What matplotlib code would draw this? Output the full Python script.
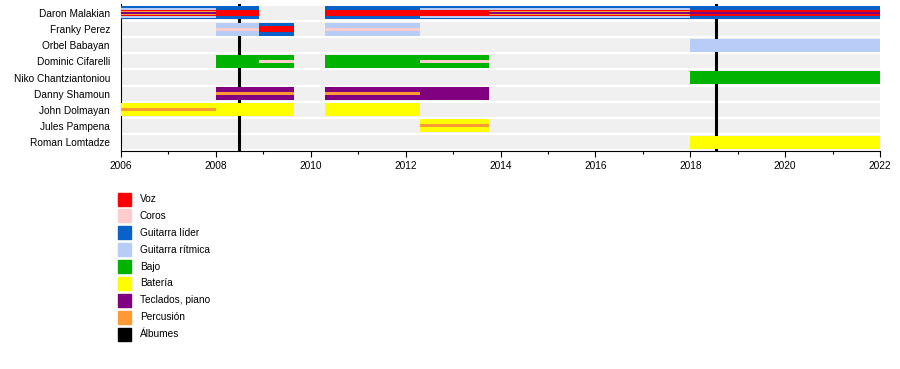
import matplotlib.pyplot as plt
from matplotlib.patches import Rectangle

plt.rcParams['font.family'] = ['Liberation Sans', 'DejaVu Sans']

members = ["Daron Malakian", "Franky Perez", "Orbel Babayan", "Dominic Cifarelli",
           "Niko Chantziantoniou", "Danny Shamoun", "John Dolmayan",
           "Jules Pampena", "Roman Lomtadze"]

roles = ["Voz", "Coros", "Guitarra líder", "Guitarra rítmica", "Bajo",
         "Batería", "Teclados, piano", "Percusión", "Álbumes"]
role_colors = ["#ff0000", "#ffcccc", "#0a62c8", "#b8ccf8", "#00b300",
               "#ffff00", "#800080", "#ff9933", "#000000"]

# (member, start, end, role, layer)  layer 0 = main bar, higher = thinner stripe on top
bars = [
    ("Daron Malakian", 2006.0, 2008.9, "Guitarra líder", 0),
    ("Daron Malakian", 2006.0, 2008.0, "Guitarra rítmica", 1),
    ("Daron Malakian", 2006.0, 2008.9, "Voz", 2),
    ("Daron Malakian", 2006.0, 2008.0, "Percusión", 3),
    ("Daron Malakian", 2006.0, 2008.0, "Teclados, piano", 4),
    ("Daron Malakian", 2010.3, 2022.0, "Guitarra líder", 0),
    ("Daron Malakian", 2012.3, 2018.0, "Guitarra rítmica", 1),
    ("Daron Malakian", 2010.3, 2022.0, "Voz", 2),
    ("Daron Malakian", 2013.75, 2018.0, "Percusión", 3),
    ("Daron Malakian", 2013.75, 2022.0, "Teclados, piano", 4),
    ("Franky Perez", 2008.0, 2008.9, "Guitarra rítmica", 0),
    ("Franky Perez", 2008.0, 2008.9, "Coros", 3),
    ("Franky Perez", 2008.9, 2009.65, "Guitarra líder", 0),
    ("Franky Perez", 2008.9, 2009.65, "Voz", 2),
    ("Franky Perez", 2010.3, 2012.3, "Guitarra rítmica", 0),
    ("Franky Perez", 2010.3, 2012.3, "Coros", 3),
    ("Orbel Babayan", 2018.0, 2022.0, "Guitarra rítmica", 0),
    ("Dominic Cifarelli", 2008.0, 2009.65, "Bajo", 0),
    ("Dominic Cifarelli", 2008.9, 2009.65, "Coros", 3),
    ("Dominic Cifarelli", 2010.3, 2013.75, "Bajo", 0),
    ("Dominic Cifarelli", 2012.3, 2013.75, "Coros", 3),
    ("Niko Chantziantoniou", 2018.0, 2022.0, "Bajo", 0),
    ("Danny Shamoun", 2008.0, 2009.65, "Teclados, piano", 0),
    ("Danny Shamoun", 2008.0, 2009.65, "Percusión", 3),
    ("Danny Shamoun", 2010.3, 2013.75, "Teclados, piano", 0),
    ("Danny Shamoun", 2010.3, 2012.3, "Percusión", 3),
    ("John Dolmayan", 2006.0, 2009.65, "Batería", 0),
    ("John Dolmayan", 2006.0, 2008.0, "Percusión", 3),
    ("John Dolmayan", 2010.3, 2012.3, "Batería", 0),
    ("Jules Pampena", 2012.3, 2013.75, "Batería", 0),
    ("Jules Pampena", 2012.3, 2013.75, "Percusión", 3),
    ("Roman Lomtadze", 2018.0, 2022.0, "Batería", 0),
]

albums = [2008.48, 2018.54]

year_start = 2006
year_end = 2022

W, H = 900, 369
fig = plt.figure(figsize=(W / 100, H / 100), dpi=100)

# axes box in pixels: left 121, right 880, top 4, bottom 151
ax = fig.add_axes([121 / W, 1 - 151 / H, (880 - 121) / W, (151 - 4) / H])

layer_height = [0.806, 0.56, 0.33, 0.2, 0.1]
color_of = dict(zip(roles, role_colors))
row_of = {m: i for i, m in enumerate(members)}

# light grey background rows
for i in range(len(members)):
    ax.barh(i, year_end - year_start, left=year_start, height=0.88,
            color="#f0f0f0", zorder=1)

for a in albums:
    ax.axvline(a, color="black", lw=2.2, zorder=2)

for m, s, e, r, lay in bars:
    ax.barh(row_of[m], e - s, left=s, height=layer_height[lay],
            color=color_of[r], zorder=3 + lay, linewidth=0)

ax.set_xlim(year_start, year_end)
ax.set_ylim(len(members) - 1 + 0.558, -0.558)
ax.set_yticks(range(len(members)))
ax.set_yticklabels(members, fontsize=7.3)
ax.tick_params(axis="y", length=0, pad=8)
ax.set_xticks(range(year_start, year_end + 1, 2))
ax.set_xticks(range(year_start + 1, year_end, 2), minor=True)
ax.tick_params(axis="x", which="major", length=4, width=0.8, labelsize=7.3, pad=3)
ax.tick_params(axis="x", which="minor", length=2.5, width=0.8)
ax.spines["top"].set_visible(False)
ax.spines["right"].set_visible(False)
ax.spines["left"].set_linewidth(0.8)
ax.spines["bottom"].set_linewidth(0.8)

# legend below the chart
for i, (r, c) in enumerate(zip(roles, role_colors)):
    yc = 199 + i * 16.9
    fig.add_artist(Rectangle((118 / W, 1 - (yc + 6.5) / H), 13 / W, 13 / H,
                             transform=fig.transFigure, color=c))
    fig.text(140 / W, 1 - yc / H, r, fontsize=7.3, va="center", ha="left")

fig.savefig("out.png", dpi=100)
